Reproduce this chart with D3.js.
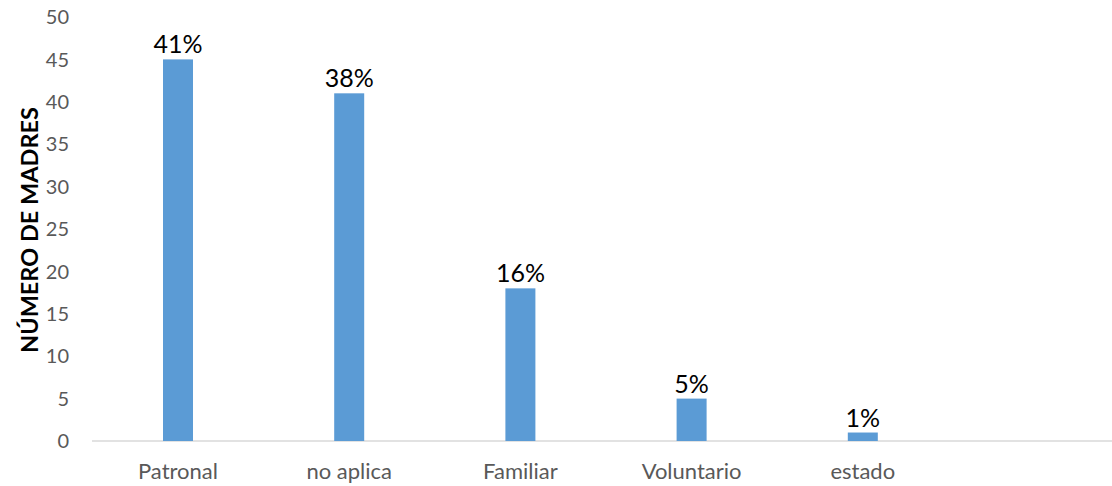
<!DOCTYPE html>
<html><head><meta charset="utf-8">
<script src="https://cdn.jsdelivr.net/npm/d3@7"></script>
<style>body{margin:0;background:#fff}</style>
</head><body>
<svg id="c" width="1112" height="486"></svg>
<script>
const categories = ["Patronal", "no aplica", "Familiar", "Voluntario", "estado", ""];
const values = [45, 41, 18, 5, 1, null];
const labels = ["41%", "38%", "16%", "5%", "1%", ""];
const yTicks = [0, 5, 10, 15, 20, 25, 30, 35, 40, 45, 50];

const svg = d3.select("#c");
const font = "Lato, 'Open Sans', sans-serif";
const x = d3.scaleBand().domain(categories).range([92.4, 1119.6]).paddingInner(0).paddingOuter(0);
const y = d3.scaleLinear().domain([0, 50]).range([441, 17]);
const bw = 30;

// y tick labels
svg.append("g").selectAll("text").data(yTicks).join("text")
  .attr("x", 69).attr("y", d => y(d)).attr("dy", "0.36em")
  .attr("text-anchor", "end").attr("fill", "#595959")
  .style("font-family", font).style("font-size", "20px").text(d => d);

// baseline
svg.append("line").attr("x1", 92).attr("x2", 1112).attr("y1", y(0)).attr("y2", y(0))
  .attr("stroke", "#d9d9d9").attr("stroke-width", 1.5);

const data = categories.map((c, i) => ({c, v: values[i], l: labels[i]})).filter(d => d.v !== null);

svg.append("g").selectAll("rect").data(data).join("rect")
  .attr("x", d => x(d.c) + x.bandwidth() / 2 - bw / 2)
  .attr("width", bw)
  .attr("y", d => y(d.v))
  .attr("height", d => y(0) - y(d.v))
  .attr("fill", "#5b9bd5");

svg.append("g").selectAll("text").data(data).join("text")
  .attr("x", d => x(d.c) + x.bandwidth() / 2)
  .attr("y", d => y(d.v) - 6)
  .attr("text-anchor", "middle").attr("fill", "#000")
  .style("font-family", font).style("font-size", "25px").text(d => d.l);

// category labels
svg.append("g").selectAll("text").data(categories).join("text")
  .attr("x", d => x(d) + x.bandwidth() / 2)
  .attr("y", 479)
  .attr("text-anchor", "middle").attr("fill", "#595959")
  .style("font-family", font).style("font-size", "22px").text(d => d);

// y axis title
svg.append("text")
  .attr("transform", "translate(38," + 230 + ") rotate(-90)")
  .attr("text-anchor", "middle").attr("fill", "#000")
  .style("font-family", font).style("font-size", "23.5px").style("font-weight", "bold")
  .text("NÚMERO DE MADRES");
</script>
</body></html>
